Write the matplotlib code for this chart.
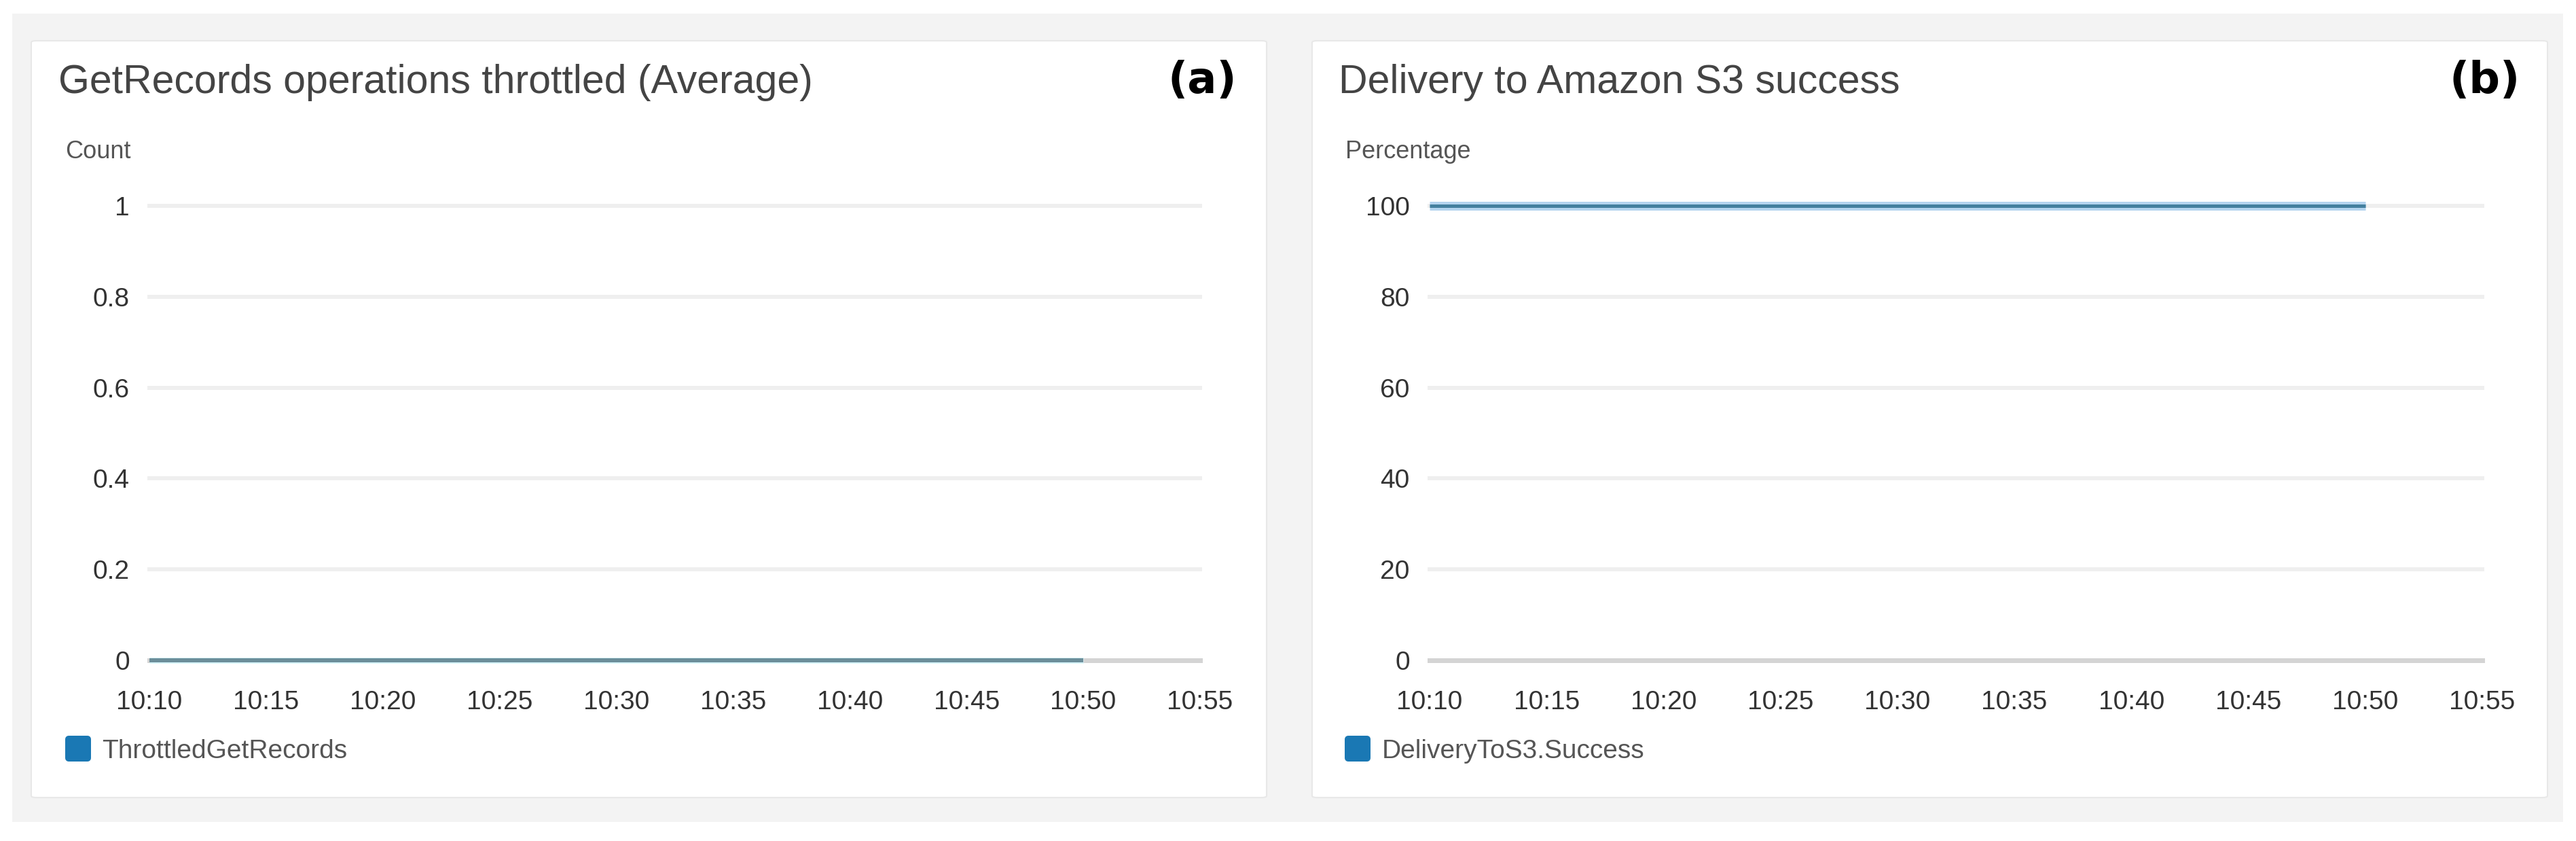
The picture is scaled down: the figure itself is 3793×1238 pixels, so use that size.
import numpy as np
import pandas as pd
import matplotlib
matplotlib.use("Agg")
import matplotlib.pyplot as plt
import matplotlib.dates as mdates
from matplotlib.patches import Rectangle, FancyBboxPatch
from matplotlib.lines import Line2D
from matplotlib.markers import MarkerStyle

plt.rcParams['font.family'] = ['Liberation Sans', 'DejaVu Sans']

# data
times = ["10:10", "10:15", "10:20", "10:25", "10:30", "10:35", "10:40", "10:45", "10:50"]
throttled = [0, 0, 0, 0, 0, 0, 0, 0, 0]
s3_success = [100, 100, 100, 100, 100, 100, 100, 100, 100]
tick_times = ["10:10", "10:15", "10:20", "10:25", "10:30", "10:35", "10:40", "10:45", "10:50", "10:55"]
yticks_a = [0, 0.2, 0.4, 0.6, 0.8, 1]
ytick_labels_a = ["0", "0.2", "0.4", "0.6", "0.8", "1"]
yticks_b = [0, 20, 40, 60, 80, 100]

W, H = 3793, 1238
DPI = 100
fig = plt.figure(figsize=(W / DPI, H / DPI), dpi=DPI, facecolor='white')

def fx(px):
    return px / W

def fy(py):
    return 1 - py / H

# grey dashboard background + white cards
fig.patches.append(Rectangle((fx(18), fy(1210)), fx(3774 - 18), (1210 - 20) / H,
                             transform=fig.transFigure, facecolor='#f3f3f3', edgecolor='none', zorder=-3))
for x0, x1 in [(46, 1865), (1932, 3751)]:
    fig.patches.append(FancyBboxPatch((fx(x0), fy(1174)), fx(x1 - x0), (1174 - 60) / H,
                                      boxstyle='round,pad=0,rounding_size=0.002',
                                      transform=fig.transFigure, facecolor='white',
                                      edgecolor='#e8e8e8', linewidth=1.5, zorder=-2))

base = pd.Timestamp("2020-01-01")
x = [base + pd.Timedelta(t + ":00") for t in times]
xt = [base + pd.Timedelta(t + ":00") for t in tick_times]

panels = [
    dict(left=220, right=1767, y=throttled, ticks=yticks_a, ticklabels=ytick_labels_a, top=1,
         title="GetRecords operations throttled (Average)", tx=86, unit="Count", ux=96,
         tag="(a)", tagx=1770, leg="ThrottledGetRecords", legx=96,
         halo='#d8f4fb', core='#6c8e9a', halo_w=9, core_w=6),
    dict(left=2105, right=3655, y=s3_success, ticks=yticks_b, ticklabels=[str(v) for v in yticks_b], top=100,
         title="Delivery to Amazon S3 success", tx=1971, unit="Percentage", ux=1981,
         tag="(b)", tagx=3659, leg="DeliveryToS3.Success", legx=1980,
         halo='#b4d4ef', core='#44809f', halo_w=13, core_w=5),
]

px2pt = 72 / DPI

for p in panels:
    ax = fig.add_axes([fx(p['left']), fy(972), fx(p['right'] - p['left']), (972 - 303) / H])
    ax.set_facecolor('none')
    for s in ax.spines.values():
        s.set_visible(False)
    for t in p['ticks'][1:]:
        ax.axhline(t, color='#efefef', lw=6 * px2pt, zorder=1)
    ax.axhline(0, color='#d4d4d4', lw=7 * px2pt, zorder=1)
    ax.plot(x, p['y'], color=p['halo'], lw=p['halo_w'] * px2pt, solid_capstyle='butt', zorder=2)
    ax.plot(x, p['y'], color=p['core'], lw=p['core_w'] * px2pt, solid_capstyle='butt', zorder=3)
    ax.set_xlim(xt[0], xt[-1])
    ax.set_ylim(0, p['top'])
    ax.set_yticks(p['ticks'])
    ax.set_yticklabels(p['ticklabels'])
    ax.set_xticks(xt)
    ax.xaxis.set_major_formatter(mdates.DateFormatter('%H:%M'))
    ax.tick_params(axis='both', length=0, labelsize=28, labelcolor='#333333')
    ax.tick_params(axis='y', pad=21)
    ax.tick_params(axis='x', pad=32)
    for ln in ax.lines:
        ln.set_clip_on(False)

    fig.text(fx(p['tx']), fy(137), p['title'], fontsize=42.5, color='#444444', va='baseline', ha='left')
    fig.text(fx(p['ux']), fy(233), p['unit'], fontsize=26, color='#555555', va='baseline', ha='left')
    fig.text(fx(p['tagx']), fy(119), p['tag'], fontsize=46, fontweight='bold', color='black',
             family='DejaVu Sans', va='center', ha='center')

    handle = Line2D([], [], ls='', marker=MarkerStyle('s', joinstyle='round'), markersize=28 * px2pt,
                    markerfacecolor='#1a78b4', markeredgecolor='#1a78b4', markeredgewidth=10 * px2pt)
    ax.legend([handle], [p['leg']], loc='center left', bbox_to_anchor=(fx(p['legx']), fy(1106)),
              bbox_transform=fig.transFigure, frameon=False, borderpad=0, borderaxespad=0,
              handlelength=1.0, handletextpad=0.4, fontsize=28, labelcolor='#555555')

fig.savefig("out.png", dpi=DPI, facecolor='white')
